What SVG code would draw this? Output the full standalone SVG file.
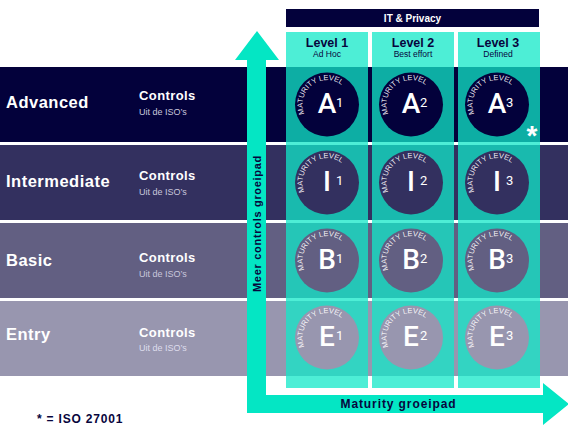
<svg xmlns="http://www.w3.org/2000/svg" xmlns:xlink="http://www.w3.org/1999/xlink" width="568" height="427" viewBox="0 0 568 427">
<style>
text{font-family:"Liberation Sans",Arial,sans-serif}
.rowlbl{fill:#fff;font-size:16.5px;font-weight:bold;letter-spacing:0.5px}
.ctl{fill:#fff;font-size:13px;font-weight:bold;letter-spacing:0.4px}
.uit{fill:#c9c7dc;font-size:9px}
.col{fill:#12e8c8;fill-opacity:0.75}
.lvl{fill:#07053d;font-size:12.5px;font-weight:bold;text-anchor:middle}
.lvls{fill:#07053d;font-size:8.5px;text-anchor:middle}
.ml{fill:#fff;fill-opacity:0.92;font-size:7.5px}
.big{fill:#fff;font-family:Roboto,"Liberation Sans",sans-serif;font-size:28px;font-weight:500;text-anchor:middle}
.num{fill:#fff;font-family:Roboto,"Liberation Sans",sans-serif;font-size:13px}
.axis{fill:#07053d;font-weight:bold}
.c-a{fill:#03013b}.c-i{fill:#33305f}.c-b{fill:#625f82}.c-e{fill:#9896af}
</style>
<defs>
<path id="arc" d="M -22.6 9.2 A 24.4 24.4 0 1 1 24.4 0"/>
</defs>

<g id="row-advanced">
<rect x="0" y="67" width="568" height="75" class="c-a"/>
<text x="6" y="108" class="rowlbl">Advanced</text>
<text x="139" y="100" class="ctl">Controls</text>
<text x="139" y="115" class="uit">Uit de ISO’s</text>
</g>
<g id="row-intermediate">
<rect x="0" y="145" width="568" height="75" class="c-i"/>
<text x="6" y="187" class="rowlbl">Intermediate</text>
<text x="139" y="180" class="ctl">Controls</text>
<text x="139" y="195" class="uit">Uit de ISO’s</text>
</g>
<g id="row-basic">
<rect x="0" y="223" width="568" height="75" class="c-b"/>
<text x="6" y="266" class="rowlbl">Basic</text>
<text x="139" y="262" class="ctl">Controls</text>
<text x="139" y="277" class="uit">Uit de ISO’s</text>
</g>
<g id="row-entry">
<rect x="0" y="301" width="568" height="75" class="c-e"/>
<text x="6" y="340" class="rowlbl">Entry</text>
<text x="139" y="337" class="ctl">Controls</text>
<text x="139" y="351" class="uit" style="fill:#dedded">Uit de ISO’s</text>
</g>

<g id="it-privacy">
<rect x="286" y="9" width="253" height="18" fill="#03013b"/>
<text x="412.5" y="21.5" fill="#fff" font-size="10" font-weight="bold" text-anchor="middle">IT &amp; Privacy</text>
</g>

<g id="level-1">
<rect x="286" y="32" width="82" height="356" class="col"/>
<text x="327" y="47" class="lvl">Level 1</text>
<text x="327" y="57" class="lvls">Ad Hoc</text>
</g>
<g id="level-2">
<rect x="372" y="32" width="82" height="356" class="col"/>
<text x="413" y="47" class="lvl">Level 2</text>
<text x="413" y="57" class="lvls">Best effort</text>
</g>
<g id="level-3">
<rect x="458" y="32" width="82" height="356" class="col"/>
<text x="498" y="47" class="lvl">Level 3</text>
<text x="498" y="57" class="lvls">Defined</text>
</g>

<g id="cell-A1" transform="translate(327,104.5)"><circle r="32" class="c-a"/><text class="ml"><textPath xlink:href="#arc" href="#arc">MATURITY LEVEL</textPath></text><text x="0" y="8" class="big">A</text><text x="9" y="2.5" class="num">1</text></g>
<g id="cell-A2" transform="translate(411,104.5)"><circle r="32" class="c-a"/><text class="ml"><textPath xlink:href="#arc" href="#arc">MATURITY LEVEL</textPath></text><text x="0" y="8" class="big">A</text><text x="9" y="2.5" class="num">2</text></g>
<g id="cell-A3" transform="translate(497,104.5)"><circle r="32" class="c-a"/><text class="ml"><textPath xlink:href="#arc" href="#arc">MATURITY LEVEL</textPath></text><text x="0" y="8" class="big">A</text><text x="9" y="2.5" class="num">3</text></g>

<g id="cell-I1" transform="translate(327,182.5)"><circle r="32" class="c-i"/><text class="ml"><textPath xlink:href="#arc" href="#arc">MATURITY LEVEL</textPath></text><text x="0" y="8" class="big">I</text><text x="9" y="2.5" class="num">1</text></g>
<g id="cell-I2" transform="translate(411,182.5)"><circle r="32" class="c-i"/><text class="ml"><textPath xlink:href="#arc" href="#arc">MATURITY LEVEL</textPath></text><text x="0" y="8" class="big">I</text><text x="9" y="2.5" class="num">2</text></g>
<g id="cell-I3" transform="translate(497,182.5)"><circle r="32" class="c-i"/><text class="ml"><textPath xlink:href="#arc" href="#arc">MATURITY LEVEL</textPath></text><text x="0" y="8" class="big">I</text><text x="9" y="2.5" class="num">3</text></g>

<g id="cell-B1" transform="translate(327,260.5)"><circle r="32" class="c-b"/><text class="ml"><textPath xlink:href="#arc" href="#arc">MATURITY LEVEL</textPath></text><text x="0" y="8" class="big">B</text><text x="9" y="2.5" class="num">1</text></g>
<g id="cell-B2" transform="translate(411,260.5)"><circle r="32" class="c-b"/><text class="ml"><textPath xlink:href="#arc" href="#arc">MATURITY LEVEL</textPath></text><text x="0" y="8" class="big">B</text><text x="9" y="2.5" class="num">2</text></g>
<g id="cell-B3" transform="translate(497,260.5)"><circle r="32" class="c-b"/><text class="ml"><textPath xlink:href="#arc" href="#arc">MATURITY LEVEL</textPath></text><text x="0" y="8" class="big">B</text><text x="9" y="2.5" class="num">3</text></g>

<g id="cell-E1" transform="translate(327,337.5)"><circle r="32" class="c-e"/><text class="ml"><textPath xlink:href="#arc" href="#arc">MATURITY LEVEL</textPath></text><text x="0" y="8" class="big">E</text><text x="9" y="2.5" class="num">1</text></g>
<g id="cell-E2" transform="translate(411,337.5)"><circle r="32" class="c-e"/><text class="ml"><textPath xlink:href="#arc" href="#arc">MATURITY LEVEL</textPath></text><text x="0" y="8" class="big">E</text><text x="9" y="2.5" class="num">2</text></g>
<g id="cell-E3" transform="translate(497,337.5)"><circle r="32" class="c-e"/><text class="ml"><textPath xlink:href="#arc" href="#arc">MATURITY LEVEL</textPath></text><text x="0" y="8" class="big">E</text><text x="9" y="2.5" class="num">3</text></g>

<g id="asterisk">
<text x="532" y="145" fill="#fff" font-size="28" font-weight="bold" text-anchor="middle">*</text>
</g>

<g id="connectors">
<path d="M257 31 L279 60 L266 60 L266 395 L543 395 L543 383 L569 404 L543 425 L543 413 L247 413 L247 60 L235 60 Z" fill="#04e6c4"/>
<text class="axis" font-size="11" letter-spacing="0.7" text-anchor="middle" transform="translate(261,223.5) rotate(-90)">Meer controls groeipad</text>
<text class="axis" x="398.5" y="408" font-size="12" letter-spacing="0.9" text-anchor="middle">Maturity groeipad</text>
</g>

<g id="footnote">
<text x="37" y="423" fill="#07053d" font-size="12" font-weight="bold" letter-spacing="0.8">* = ISO 27001</text>
</g>
</svg>
